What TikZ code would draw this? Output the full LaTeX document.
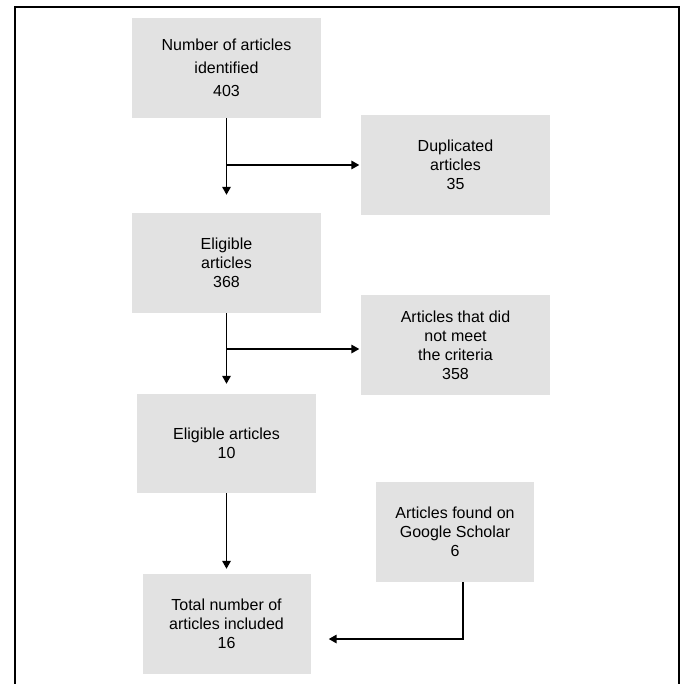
\documentclass[tikz,border=0pt]{standalone}
\usepackage{fontspec}
\setmainfont{Liberation Sans}
\usetikzlibrary{arrows.meta}
\definecolor{boxgray}{RGB}{226,226,226}
\tikzset{
  box/.style={rectangle, fill=boxgray, inner sep=0pt, align=center,
    font=\fontsize{16}{19}\selectfont},
  arr/.style={line width=1.7pt, -{Triangle[width=8.5pt,length=8pt]}},
  frame/.style={line width=2.8pt}
}
\begin{document}
\begin{tikzpicture}[x=1pt,y=-1pt]
\useasboundingbox (0,0) rectangle (683,684);
% frame (no bottom edge)
\draw[frame] (15,684) -- (15,7) -- (679,7) -- (679,684);
% boxes
\node[box, minimum width=189pt, minimum height=100pt, font=\fontsize{16}{23}\selectfont] (b1) at (226.5,68) {Number of articles\\identified\\403};
\node[box, minimum width=189pt, minimum height=100pt] (b2) at (455.5,165) {Duplicated\\articles\\35};
\node[box, minimum width=189pt, minimum height=100pt] (b3) at (226.5,263) {Eligible\\articles\\368};
\node[box, minimum width=189pt, minimum height=100pt] (b4) at (455.5,345) {Articles that did\\not meet\\the criteria\\358};
\node[box, minimum width=179pt, minimum height=99pt] (b5) at (226.5,443.5) {Eligible articles\\10};
\node[box, minimum width=158pt, minimum height=100pt] (b6) at (455,532) {Articles found on\\Google Scholar\\6};
\node[box, minimum width=168pt, minimum height=100pt] (b7) at (226.5,624) {Total number of\\articles included\\16};
% junctions
\coordinate (j1) at (226.5,165);
\coordinate (j2) at (226.5,349);
\coordinate (j3) at (463,582);
\coordinate (j4) at (463,639);
% connectors
\draw[arr, shorten >=18pt] (b1.south) -- (b3.north);
\draw[arr, shorten >=1.5pt] (j1) -- (b2.west);
\draw[arr, shorten >=10pt] (b3.south) -- (b5.north);
\draw[arr, shorten >=1.5pt] (j2) -- (j2 -| b4.west);
\draw[arr, shorten >=5pt] (b5.south) -- (b7.north);
\draw[arr, shorten >=18pt] (j3) -- (j4) -- (j4 -| b7.east);
\end{tikzpicture}
\end{document}
